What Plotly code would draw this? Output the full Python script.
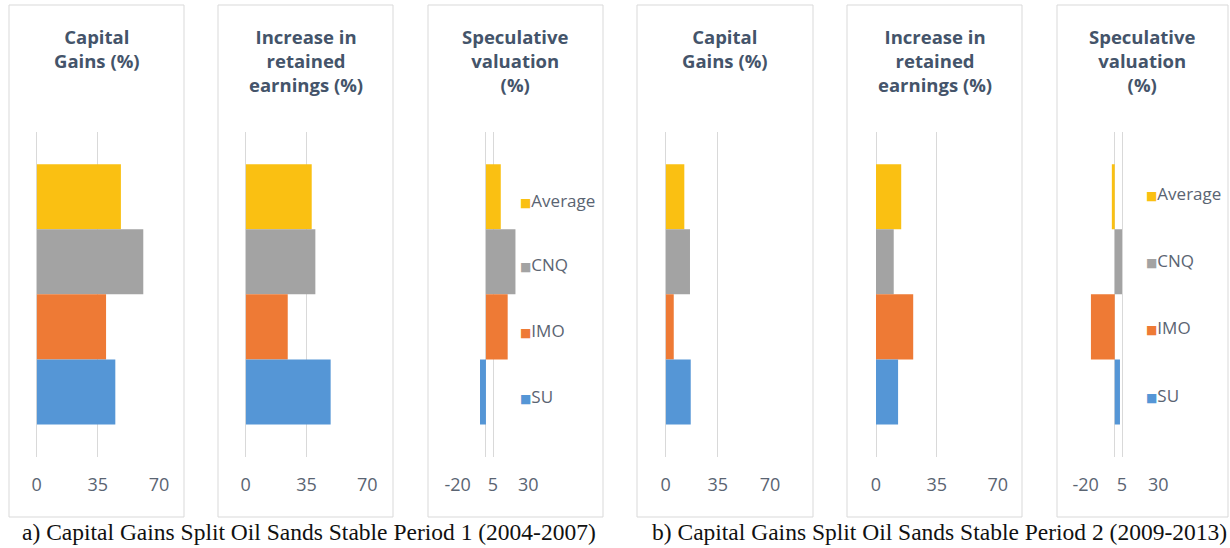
import plotly.graph_objects as go

# ---- data ----
categories = ["Average", "CNQ", "IMO", "SU"]
p1_capital_gains = [48.2, 61.0, 39.7, 45.0]
p1_retained_earnings = [38.0, 40.1, 24.2, 48.9]
p1_speculative = [10.5, 20.9, 15.4, -4.2]
p2_capital_gains = [12.5, 16.3, 5.4, 16.8]
p2_retained_earnings = [14.5, 10.2, 21.4, 12.7]
p2_speculative = [-2.0, 5.0, -16.4, 3.6]

panel_titles = ["Capital<br>Gains (%)",
                "Increase in<br>retained<br>earnings (%)",
                "Speculative<br>valuation<br>(%)"] * 2
tick_sets = [[0, 35, 70], [0, 35, 70], [-20, 5, 30]] * 2
ranges = [[0, 70], [0, 70], [-20, 30]] * 2
captions = ["a) Capital Gains Split Oil Sands Stable Period 1 (2004-2007)",
            "b) Capital Gains Split Oil Sands Stable Period 2 (2009-2013)"]

colors = {"SU": "#5596D6", "IMO": "#EE7A35", "CNQ": "#A3A3A3", "Average": "#FAC012"}

W, H = 1230, 548
panels = [p1_capital_gains, p1_retained_earnings, p1_speculative,
          p2_capital_gains, p2_retained_earnings, p2_speculative]

# pixel layout
boxes = [(9, 184), (218, 393), (428, 603), (637, 813), (847, 1022), (1057, 1228)]
plot_x = [(36.7, 159), (245.7, 367.3), (457.7, 528.3), (665.7, 770), (876, 997.7), (1085.7, 1158.3)]
plot_y = (131.7, 457)
box_y = (5, 517)
legend_pos = {2: (518, [200, 265, 330, 396]), 5: (1144, [193, 260, 327, 395])}

def px(x):
    return x / W

def py(y):
    return 1 - y / H

fig = go.Figure()
layout = dict(width=W, height=H, margin=dict(l=0, r=0, t=0, b=0, autoexpand=False),
              paper_bgcolor="white", plot_bgcolor="white", barmode="group",
              bargap=0.2, bargroupgap=0, showlegend=False,
              font=dict(family="Open Sans", color="#595959"))

shapes = []
annotations = []
for i, vals in enumerate(panels):
    n = i + 1
    xa = "x" if n == 1 else f"x{n}"
    ya = "y" if n == 1 else f"y{n}"
    for cat, v in zip(categories, vals):
        fig.add_trace(go.Bar(y=[""], x=[v], orientation="h", name=cat,
                             marker=dict(color=colors[cat], line=dict(width=0)),
                             xaxis=xa, yaxis=ya, showlegend=False))
    xk = "xaxis" if n == 1 else f"xaxis{n}"
    yk = "yaxis" if n == 1 else f"yaxis{n}"
    layout[xk] = dict(domain=[px(plot_x[i][0]), px(plot_x[i][1])], range=ranges[i],
                      tickvals=tick_sets[i], ticktext=[str(t) for t in tick_sets[i]],
                      showgrid=True, gridcolor="#D9D9D9", gridwidth=1,
                      zeroline=True, zerolinecolor="#D9D9D9", zerolinewidth=1,
                      showline=False, ticks="", ticklabelstandoff=15,
                      tickfont=dict(size=18, color="#5A6472", family="Open Sans"),
                      anchor=ya, fixedrange=True)
    layout[yk] = dict(domain=[py(plot_y[1]), py(plot_y[0])], showticklabels=False,
                      showgrid=False, zeroline=False, showline=False, anchor=xa,
                      type="category", autorange="reversed", fixedrange=True)
    shapes.append(dict(type="rect", xref="paper", yref="paper",
                       x0=px(boxes[i][0]), x1=px(boxes[i][1]),
                       y0=py(box_y[1]), y1=py(box_y[0]),
                       line=dict(color="#D9D9D9", width=1), fillcolor="rgba(0,0,0,0)", layer="below"))
    annotations.append(dict(text=f"<b>{panel_titles[i]}</b>", xref="paper", yref="paper",
                            x=px((boxes[i][0] + boxes[i][1]) / 2), y=py(21.7),
                            xanchor="center", yanchor="top", showarrow=False, align="center",
                            font=dict(size=18.5, color="#44546A", family="Open Sans")))
    # legend entries (series names) for the speculative valuation panels
    if i in legend_pos:
        lx, lys = legend_pos[i]
        for cat, ly in zip(categories, lys):
            annotations.append(dict(
                text=f"<span style='color:{colors[cat]};font-size:12px;font-family:DejaVu Sans'>■</span>{cat}",
                xref="paper", yref="paper", x=px(lx), y=py(ly), xanchor="left", yanchor="middle",
                showarrow=False, align="left",
                font=dict(size=17, color="#5A6472", family="Open Sans")))

for c, cx in zip(captions, [309, 939]):
    annotations.append(dict(text=c, xref="paper", yref="paper", x=px(cx), y=py(532),
                            xanchor="center", yanchor="middle", showarrow=False,
                            font=dict(size=23.5, color="#111111", family="Liberation Serif")))

layout["shapes"] = shapes
layout["annotations"] = annotations
fig.update_layout(**layout)
fig.write_html("out.html", config={"displayModeBar": False},
               post_script="document.body.style.margin='0';document.body.style.overflow='hidden';")
